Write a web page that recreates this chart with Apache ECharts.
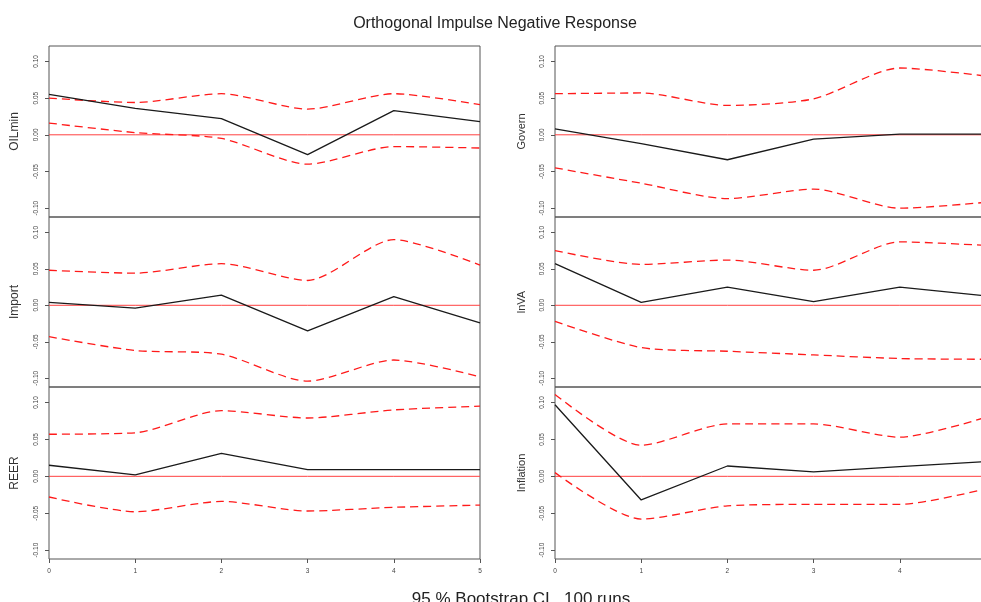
<!DOCTYPE html>
<html>
<head>
<meta charset="utf-8">
<title>Orthogonal Impulse Negative Response</title>
<script src="https://cdn.jsdelivr.net/npm/echarts@6/dist/echarts.min.js"></script>
<style>
  html, body { margin: 0; padding: 0; background: #fff; }
  #chart { width: 981px; height: 602px; }
</style>
</head>
<body>
<div id="chart"></div>
<script>
// horizon steps and y tick positions
const steps = [0, 1, 2, 3, 4, 5];
const yTicks = [-0.1, -0.05, 0, 0.05, 0.1];

// impulse response (black) + 95% bootstrap bands (red dashed)
const oilminIrf = [0.055, 0.036, 0.022, -0.027, 0.033, 0.018];
const oilminUpper = [0.050, 0.044, 0.056, 0.035, 0.056, 0.041];
const oilminLower = [0.016, 0.003, -0.005, -0.040, -0.016, -0.018];

const governIrf = [0.008, -0.012, -0.034, -0.006, 0.001, 0.001];
const governUpper = [0.056, 0.057, 0.040, 0.049, 0.091, 0.080];
const governLower = [-0.045, -0.066, -0.087, -0.074, -0.100, -0.092];

const importIrf = [0.004, -0.004, 0.014, -0.035, 0.012, -0.024];
const importUpper = [0.048, 0.044, 0.057, 0.034, 0.090, 0.055];
const importLower = [-0.043, -0.062, -0.067, -0.104, -0.075, -0.098];

const lnvaIrf = [0.057, 0.004, 0.025, 0.005, 0.025, 0.013];
const lnvaUpper = [0.075, 0.056, 0.062, 0.048, 0.087, 0.082];
const lnvaLower = [-0.022, -0.058, -0.063, -0.068, -0.073, -0.074];

const reerIrf = [0.015, 0.002, 0.031, 0.009, 0.009, 0.009];
const reerUpper = [0.057, 0.059, 0.089, 0.079, 0.090, 0.095];
const reerLower = [-0.028, -0.048, -0.034, -0.047, -0.042, -0.039];

const inflationIrf = [0.097, -0.032, 0.014, 0.006, 0.013, 0.020];
const inflationUpper = [0.111, 0.042, 0.071, 0.071, 0.053, 0.080];
const inflationLower = [0.005, -0.058, -0.040, -0.038, -0.038, -0.017];

const panels = [
  { name: "OILmin", irf: oilminIrf, upper: oilminUpper, lower: oilminLower },
  { name: "Govern", irf: governIrf, upper: governUpper, lower: governLower },
  { name: "Import", irf: importIrf, upper: importUpper, lower: importLower },
  { name: "lnVA", irf: lnvaIrf, upper: lnvaUpper, lower: lnvaLower },
  { name: "REER", irf: reerIrf, upper: reerUpper, lower: reerLower },
  { name: "Inflation", irf: inflationIrf, upper: inflationUpper, lower: inflationLower },
];

const FONT = "Liberation Sans";
const FRAME = "#555";
const BAND = "#ff1a1a";
const ZERO = "#ff4040";

const rowTops = [46, 217, 387];
const rowHeights = [171, 170, 172];
const colLefts = [49, 555];
const colWidth = 431;

const grid = [], xAxis = [], yAxis = [], series = [];

panels.forEach((p, i) => {
  const row = Math.floor(i / 2);
  const col = i % 2;
  const bottomRow = row === 2;

  grid.push({
    left: colLefts[col], top: rowTops[row],
    width: colWidth, height: rowHeights[row],
    outerBoundsMode: "none",
    show: true, borderColor: FRAME, borderWidth: 1,
    backgroundColor: "transparent",
  });

  xAxis.push({
    gridIndex: i, type: "value", min: 0, max: 5, interval: 1,
    axisLine: { show: false, onZero: false },
    splitLine: { show: false },
    axisTick: { show: bottomRow, length: 4, lineStyle: { color: FRAME } },
    axisLabel: {
      show: bottomRow, margin: 9,
      fontFamily: FONT, fontSize: 6.5, color: "#444",
    },
  });

  yAxis.push({
    gridIndex: i, type: "value", min: -0.112, max: 0.121,
    name: p.name, nameLocation: "middle", nameRotate: 90, nameGap: 28,
    nameTextStyle: { fontFamily: FONT, fontSize: col === 0 ? 12 : 11, color: "#333" },
    axisLine: { show: false, onZero: false },
    splitLine: { show: false },
    axisTick: { show: true, length: 4, customValues: yTicks, lineStyle: { color: FRAME } },
    axisLabel: {
      customValues: yTicks, rotate: 90, margin: 9,
      fontFamily: FONT, fontSize: 6.5, color: "#444",
      formatter: (v) => v.toFixed(2),
    },
  });

  const pairs = (arr) => steps.map((s, k) => [s, arr[k]]);

  // zero reference line
  series.push({
    type: "line", xAxisIndex: i, yAxisIndex: i,
    data: steps.map((s) => [s, 0]), symbol: "none", silent: true, z: 1,
    lineStyle: { color: ZERO, width: 1 },
  });
  series.push({
    type: "line", xAxisIndex: i, yAxisIndex: i,
    data: pairs(p.upper), smooth: 0.25, symbol: "none", silent: true, z: 2,
    lineStyle: { color: BAND, width: 1.3, type: [8, 5] },
  });
  series.push({
    type: "line", xAxisIndex: i, yAxisIndex: i,
    data: pairs(p.lower), smooth: 0.25, symbol: "none", silent: true, z: 2,
    lineStyle: { color: BAND, width: 1.3, type: [8, 5] },
  });
  series.push({
    type: "line", xAxisIndex: i, yAxisIndex: i,
    data: pairs(p.irf), symbol: "none", silent: true, z: 3,
    lineStyle: { color: "#1a1a1a", width: 1.3 },
  });
});

const chart = echarts.init(document.getElementById("chart"), null, { renderer: "canvas" });
chart.setOption({
  animation: false,
  backgroundColor: "#fff",
  title: [
    {
      text: "Orthogonal Impulse Negative Response",
      left: 490, top: 11, textAlign: "center",
      textStyle: { fontFamily: FONT, fontSize: 16, fontWeight: "normal", color: "#222" },
    },
    {
      text: "95 % Bootstrap CI,  100 runs",
      left: 516, top: 586, textAlign: "center",
      textStyle: { fontFamily: FONT, fontSize: 17, fontWeight: "normal", color: "#222" },
    },
  ],
  grid, xAxis, yAxis, series,
});
</script>
</body>
</html>
